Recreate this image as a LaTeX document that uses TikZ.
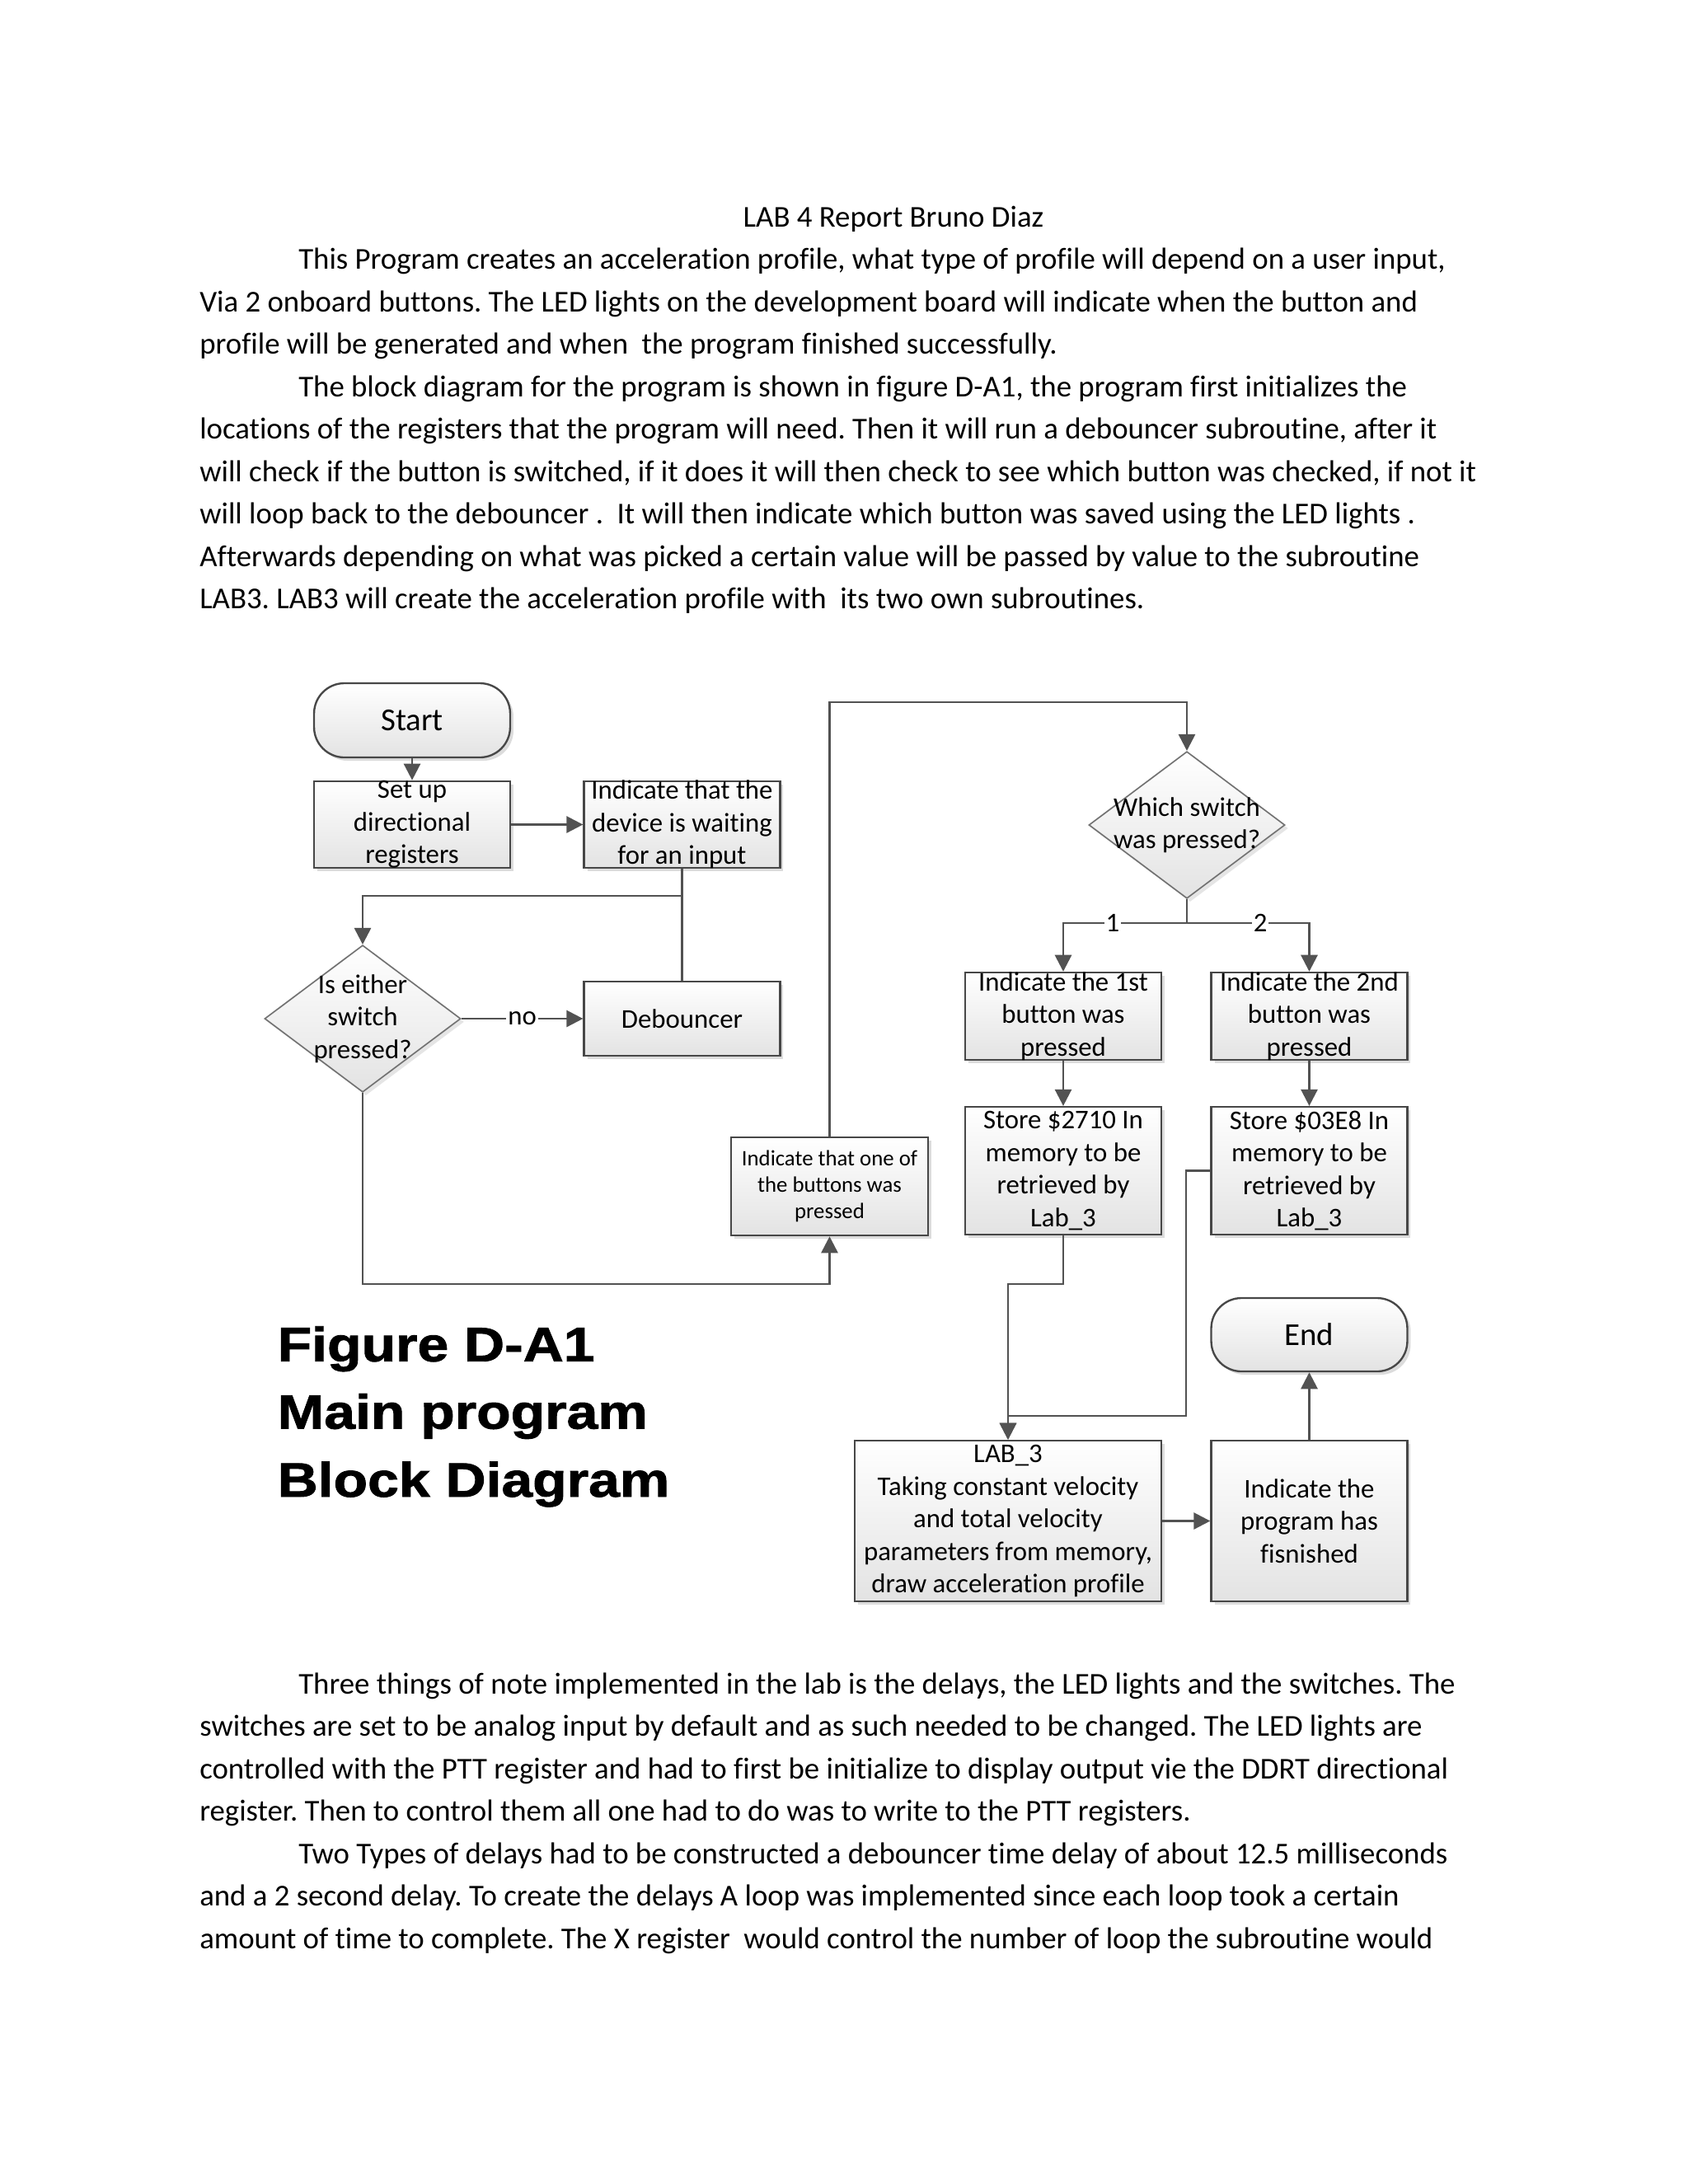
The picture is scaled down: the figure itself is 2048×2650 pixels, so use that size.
\documentclass[tikz,border=0pt]{standalone}
\usepackage{fontspec}
\setmainfont{Carlito}[RawFeature={-liga}]
\newfontfamily\figfont{Liberation Sans}[FakeStretch=1.16, BoldFeatures={FakeBold=1.5}]
\usetikzlibrary{arrows.meta,shapes.geometric,shadows,calc}
\frenchspacing
\newcommand\bodyfnt{\fontsize{11}{13}\selectfont}
\newcommand\dgfnt{\fontsize{9.8}{11.8}\selectfont}
\newcommand\smfnt{\fontsize{8}{9.6}\selectfont}
\newcommand\trmfnt{\fontsize{11.6}{13}\selectfont}
\newcommand\figfnt{\figfont\bfseries\fontsize{17.5}{20}\selectfont}
\tikzset{
  bodyline/.style={anchor=base west, inner sep=0pt, font=\bodyfnt, text=black},
  boxshape/.style={draw=black!72, line width=0.7pt, top color=white, bottom color=black!11,
    minimum width=71.1pt, inner sep=0pt,
    drop shadow={shadow xshift=1.2pt, shadow yshift=-1.2pt, opacity=0.3, fill=black!45}},
  termshape/.style={boxshape, rounded corners=11pt, minimum height=26.9pt},
  diashape/.style={diamond, draw=black!55, line width=0.5pt, top color=white, bottom color=black!11,
    minimum width=71.1pt, minimum height=53.3pt, inner sep=0pt,
    drop shadow={shadow xshift=1.2pt, shadow yshift=-1.2pt, opacity=0.25, fill=black!40}},
  lbl/.style={align=center, inner sep=0pt, font=\dgfnt, text=black},
  conn/.style={draw=black!68, line width=0.8pt},
  arr/.style={conn, -{Triangle[length=6pt,width=6pt]}},
  elbl/.style={fill=white, inner sep=0.6pt, font=\dgfnt, text=black},
  figline/.style={anchor=base west, inner sep=0pt, font=\figfnt, text=black}
}
\begin{document}
\begin{tikzpicture}[x=0.298828pt, y=-0.298828pt]
\useasboundingbox (0,0) rectangle (2048,2650);
\fill[white] (0,0) rectangle (2048,2650);

% ---------- text above the figure ----------
\node[anchor=base, inner sep=0pt, font=\bodyfnt] (title) at (1084,275.4) {LAB 4 Report Bruno Diaz};
\node[bodyline] (p1) at (361.6,326.9) {This Program creates an acceleration profile, what type of profile will depend on a user input,};
\node[bodyline] (p2) at (241.6,378.4) {Via 2 onboard buttons. The LED lights on the development board will indicate when the button and};
\node[bodyline] (p3) at (241.6,429.9) {profile will be generated and when\ \ the program finished successfully.};
\node[bodyline] (p4) at (361.6,481.4) {The block diagram for the program is shown in figure D-A1, the program first initializes the};
\node[bodyline] (p5) at (241.6,532.9) {locations of the registers that the program will need. Then it will run a debouncer subroutine, after it};
\node[bodyline] (p6) at (241.6,584.4) {will check if the button is switched, if it does it will then check to see which button was checked, if not it};
\node[bodyline] (p7) at (241.6,635.9) {will loop back to the debouncer .\ \ It will then indicate which button was saved using the LED lights .};
\node[bodyline] (p8) at (241.6,687.4) {Afterwards depending on what was picked a certain value will be passed by value to the subroutine};
\node[bodyline] (p9) at (241.6,738.9) {LAB3. LAB3 will create the acceleration profile with\ \ its two own subroutines.};

% ---------- text below the figure ----------
\node[bodyline] (q1) at (361.6,2055) {Three things of note implemented in the lab is the delays, the LED lights and the switches. The};
\node[bodyline] (q2) at (241.6,2106.5) {switches are set to be analog input by default and as such needed to be changed. The LED lights are};
\node[bodyline] (q3) at (241.6,2158) {controlled with the PTT register and had to first be initialize to display output vie the DDRT directional};
\node[bodyline] (q4) at (241.6,2209.5) {register. Then to control them all one had to do was to write to the PTT registers.};
\node[bodyline] (q5) at (361.6,2261) {Two Types of delays had to be constructed a debouncer time delay of about 12.5 milliseconds};
\node[bodyline] (q6) at (241.6,2312.5) {and a 2 second delay. To create the delays A loop was implemented since each loop took a certain};
\node[bodyline] (q7) at (241.6,2364) {amount of time to complete. The X register\ \ would control the number of loop the subroutine would};

% ---------- figure caption ----------
\node[figline] (f1) at (336,1651.7) {Figure D-A1};
\node[figline] (f2) at (336,1733.5) {Main program};
\node[figline] (f3) at (336,1816) {Block Diagram};

% ---------- shapes ----------
\node[termshape] (start) at (500,874) {};
\node[boxshape, minimum height=31.5pt] (setup) at (500,1000.5) {};
\node[boxshape, minimum height=31.5pt] (wait) at (827.5,1000.5) {};
\node[diashape] (d1) at (440,1236) {};
\node[boxshape, minimum height=26.9pt] (deb) at (827.5,1236) {};
\node[boxshape, minimum width=71.4pt, minimum height=35.6pt] (oneof) at (1006.5,1439.5) {};
\node[diashape] (d2) at (1440,1001) {};
\node[boxshape, minimum height=31.7pt] (ind1) at (1290,1233) {};
\node[boxshape, minimum height=31.7pt] (ind2) at (1588.5,1233) {};
\node[boxshape, minimum height=46.3pt] (st1) at (1290,1420.5) {};
\node[boxshape, minimum height=46.3pt] (st2) at (1588.5,1420.5) {};
\node[termshape, minimum height=26.6pt] (endn) at (1588.5,1619.5) {};
\node[boxshape, minimum width=111.2pt, minimum height=58.3pt] (lab3) at (1223,1845.5) {};
\node[boxshape, minimum height=58.3pt] (fin) at (1588.5,1845.5) {};

% ---------- shape texts ----------
\node[lbl, font=\trmfnt] (start-t) at (start) {Start};
\node[lbl] (setup-t) at (setup) {Set up\\directional\\registers};
\node[lbl] (wait-t) at (wait) {Indicate that the\\device\ is waiting\\for an input};
\node[lbl] (d1-t) at (d1) {Is either\\switch\\pressed?};
\node[lbl] (deb-t) at (deb) {Debouncer};
\node[lbl, font=\smfnt] (oneof-t) at (oneof) {Indicate that one of\\the buttons was\\pressed};
\node[lbl] (d2-t) at (d2) {Which switch\\was pressed?};
\node[lbl] (ind1-t) at (ind1) {Indicate the 1st\\button was\\pressed};
\node[lbl] (ind2-t) at (ind2) {Indicate the 2nd\\button was\\pressed};
\node[lbl] (st1-t) at (st1) {Store \$2710 In\\memory to be\\retrieved by\\Lab\_3};
\node[lbl] (st2-t) at (st2) {Store \$03E8 In\\memory to be\\retrieved by\\Lab\_3};
\node[lbl, font=\trmfnt] (endn-t) at (endn) {End};
\node[lbl] (lab3-t) at (lab3) {LAB\_3\\Taking constant velocity\\and total velocity\\parameters from\ memory,\\draw acceleration profile};
\node[lbl] (fin-t) at (fin) {Indicate the\\program has\\fisnished};

% ---------- connectors ----------
\coordinate (j1) at (827.5,1087);
\coordinate (lowloop) at (700,1558);
\coordinate (toploop) at (1200,852);
\coordinate (br) at (1440,1120);
\coordinate (m1) at (1290,1558);
\coordinate (m2) at (1439,1718);

\draw[arr] (start) -- (setup);
\draw[arr] (setup) -- (wait);
\draw[conn] (deb.north) -- (j1);
\draw[arr] (wait.south) -- (j1) -| (d1.north);
\draw[arr] (d1.east) -- node[elbl] (no) {no} (deb.west);
\draw[arr] (d1.south) |- (lowloop) -| (oneof.south);
\draw[arr] (oneof.north) |- (toploop) -| (d2.north);
\draw[arr] (d2.south) -- (br) -| node[elbl, pos=0.3] (one) {1} (ind1.north);
\draw[arr] (br) -| node[elbl, pos=0.3] (two) {2} (ind2.north);
\draw[arr] (ind1) -- (st1);
\draw[arr] (ind2) -- (st2);
\draw[arr] (st1.south) -- (m1) -| (lab3.north);
\draw[arr] (st2.west) -| (m2) -| (lab3.north);
\draw[arr] (lab3) -- (fin);
\draw[arr] (fin) -- (endn);
\end{tikzpicture}
\end{document}
